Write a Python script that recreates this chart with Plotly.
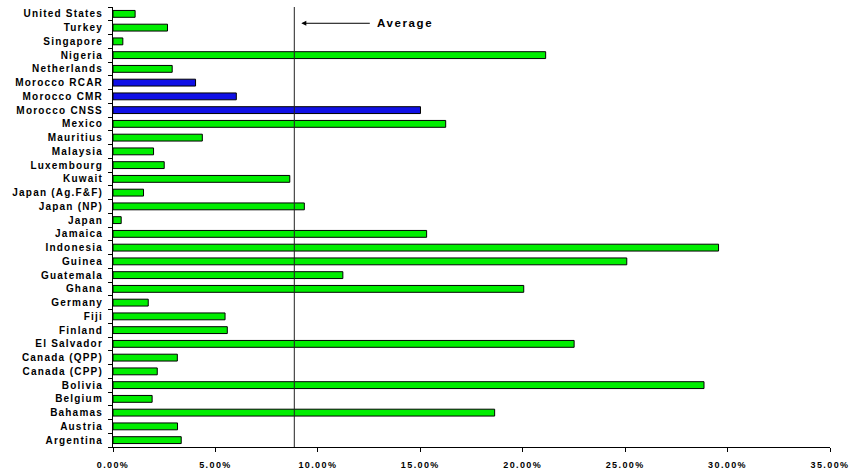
import plotly.graph_objects as go

# Contribution rates by scheme (fraction), listed bottom to top
schemes = [
    "Argentina", "Austria", "Bahamas", "Belgium", "Bolivia", "Canada (CPP)",
    "Canada (QPP)", "El Salvador", "Finland", "Fiji", "Germany", "Ghana",
    "Guatemala", "Guinea", "Indonesia", "Jamaica", "Japan", "Japan (NP)",
    "Japan (Ag.F&F)", "Kuwait", "Luxembourg", "Malaysia", "Mauritius", "Mexico",
    "Morocco CNSS", "Morocco CMR", "Morocco RCAR", "Netherlands", "Nigeria",
    "Singapore", "Turkey", "United States",
]
rates = [
    0.0333, 0.0315, 0.1863, 0.0191, 0.2885, 0.0216,
    0.0314, 0.2251, 0.0558, 0.0547, 0.0172, 0.2005,
    0.1122, 0.2508, 0.2956, 0.1531, 0.0040, 0.0934,
    0.0149, 0.0863, 0.0250, 0.0198, 0.0436, 0.1624,
    0.1501, 0.0602, 0.0403, 0.0289, 0.2112,
    0.0048, 0.0266, 0.0108,
]
AVERAGE = 0.0885
x_ticks = [0.0, 0.05, 0.10, 0.15, 0.20, 0.25, 0.30, 0.35]

GREEN = "#00ee00"
BLUE = "#1010e6"
bar_colors = [BLUE if s.startswith("Morocco") else GREEN for s in schemes]

FONT = "Arial, 'Liberation Sans', sans-serif"

fig = go.Figure(
    go.Bar(
        x=rates,
        y=schemes,
        orientation="h",
        width=0.5,
        marker=dict(color=bar_colors, line=dict(color="#000000", width=1)),
        hoverinfo="x+y",
    )
)

# Vertical average marker
fig.add_shape(
    type="line", xref="x", yref="paper",
    x0=AVERAGE, x1=AVERAGE, y0=0, y1=1,
    line=dict(color="#222222", width=1),
)
# Arrow pointing at the average line
fig.add_annotation(
    x=AVERAGE, xref="x", y=0.963, yref="paper",
    text="", showarrow=True,
    ax=77, ay=0, axref="pixel", ayref="pixel",
    arrowhead=2, arrowsize=1, arrowwidth=1, arrowcolor="#000000",
    standoff=7,
)
# Label next to the arrow tail
fig.add_annotation(
    x=AVERAGE, xref="x", y=0.963, yref="paper",
    xshift=81, xanchor="left", yanchor="middle", align="left",
    text="Average", showarrow=False,
    font=dict(family=FONT, size=11.5, color="#000000", weight=700),
)

fig.update_layout(
    width=850, height=470,
    margin=dict(l=113, r=20, t=7, b=23, autoexpand=False),
    paper_bgcolor="#ffffff", plot_bgcolor="#ffffff",
    showlegend=False,
    bargap=0.5,
)
fig.update_xaxes(
    range=[0, 0.35],
    tickvals=x_ticks,
    tickformat=".2%",
    automargin=False,
    showgrid=False, zeroline=False,
    showline=True, linecolor="#000000", linewidth=1,
    ticks="outside", ticklen=4, tickcolor="#000000", tickwidth=1,
    tickfont=dict(family=FONT, size=9, color="#000000", weight=700),
    ticklabelstandoff=5,
)
fig.update_yaxes(
    type="category",
    categoryorder="array", categoryarray=schemes,
    range=[-0.5, len(schemes) - 0.5],
    automargin=False,
    showgrid=False, zeroline=False,
    showline=True, linecolor="#000000", linewidth=1,
    ticks="outside", tickson="boundaries", ticklen=4,
    tickcolor="#000000", tickwidth=1,
    tickfont=dict(family=FONT, size=10, color="#000000", weight=700),
    ticklabelstandoff=7,
)

# Wide letter spacing for the bold labels
spacing_js = """
var s = document.createElement('style');
s.innerHTML = '.ytick text{letter-spacing:1.2px} .xtick text{letter-spacing:1.4px} .annotation-text{letter-spacing:1.6px}';
document.head.appendChild(s);
"""
fig.write_html("out.html", post_script=spacing_js)
